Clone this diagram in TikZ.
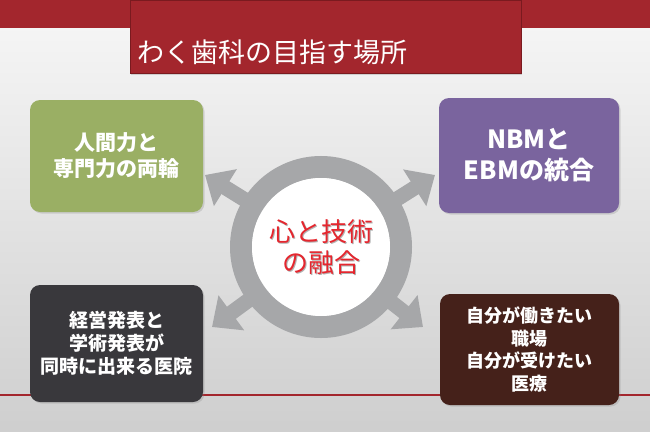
\documentclass[tikz,border=0pt]{standalone}
\usepackage{fontspec}
\usepackage{tikz}
\usetikzlibrary{arrows.meta,calc,positioning,shadows}
\newfontfamily\jpfont{Noto Sans CJK JP}
\definecolor{Wine}{HTML}{A3262D}
\definecolor{WineDark}{HTML}{7A1A1F}
\definecolor{Olive}{HTML}{9AAF64}
\definecolor{Violet}{HTML}{7A649E}
\definecolor{Coal}{HTML}{39383C}
\definecolor{Cocoa}{HTML}{45211A}
\definecolor{Ring}{HTML}{A6A7A9}
\definecolor{Scarlet}{HTML}{E5262E}

\tikzset{
  card/.style={rounded corners=10pt,align=center,text=white,
    drop shadow={opacity=.25,shadow xshift=1.5pt,shadow yshift=-1.5pt}},
  spoke/.style={Ring,line width=15pt,-{Triangle[length=24pt,width=42pt]}}
}

\begin{document}
\begin{tikzpicture}[x=1pt,y=-1pt,font=\jpfont]
    \useasboundingbox (0,0) rectangle (650,431);
    \shade[top color=gray!6,bottom color=gray!38] (0,0) rectangle (650,431);
    % header
    \fill[Wine] (0,0) rectangle (650,28);
    \node[fill=Wine,draw=WineDark,minimum width=391pt,minimum height=73pt,anchor=north west,
      drop shadow={opacity=.3,shadow xshift=1pt,shadow yshift=-1.5pt}] (head) at (130,0) {};
    \node[anchor=west,text=white,font=\jpfont\fontsize{27pt}{30pt}\selectfont,inner sep=0pt] (title) at (137,52) {わく歯科の目指す場所};
    \draw[Wine,line width=2pt] (0,395) -- (650,395);
    % hub and spokes
    \coordinate (hub) at (321,247);
    \coordinate (ul) at (205,175);
    \coordinate (ur) at (435,175);
    \coordinate (ll) at (212,327);
    \coordinate (lr) at (423,327);
    \foreach \t in {ul,ur,ll,lr}{\draw[spoke] (hub) -- (\t);}
    \draw[Ring,line width=22pt] (hub) circle (80);
    \node[circle,fill=white,minimum size=138pt,inner sep=0pt] (core) at (hub) {};
    \node[align=center,text=gray!60,font=\jpfont\fontsize{26pt}{31pt}\selectfont] at ($(hub)+(1.2,1.2)$) {心と技術\\の融合};
    \node[align=center,text=Scarlet,font=\jpfont\fontsize{26pt}{31pt}\selectfont] (motto) at (hub) {心と技術\\の融合};
    % cards
    \node[card,fill=Olive,minimum width=173pt,minimum height=112pt,font=\jpfont\bfseries\fontsize{21pt}{26pt}\selectfont] (human) at (116.5,156) {人間力と\\専門力の両輪};
    \node[card,fill=Violet,minimum width=180pt,minimum height=115pt,font=\jpfont\bfseries\fontsize{25pt}{31pt}\selectfont] (nbm) at (529,155.5) {NBMと\\EBMの統合};
    \node[card,fill=Coal,minimum width=173pt,minimum height=117pt,font=\jpfont\bfseries\fontsize{19pt}{23pt}\selectfont] (clinic) at (116.5,343.5) {経営発表と\\学術発表が\\同時に出来る医院};
    \node[card,fill=Cocoa,minimum width=179pt,minimum height=111pt,font=\jpfont\bfseries\fontsize{18pt}{22.5pt}\selectfont] (place) at (529.5,349.5) {自分が働きたい\\職場\\自分が受けたい\\医療};
\end{tikzpicture}
\end{document}
